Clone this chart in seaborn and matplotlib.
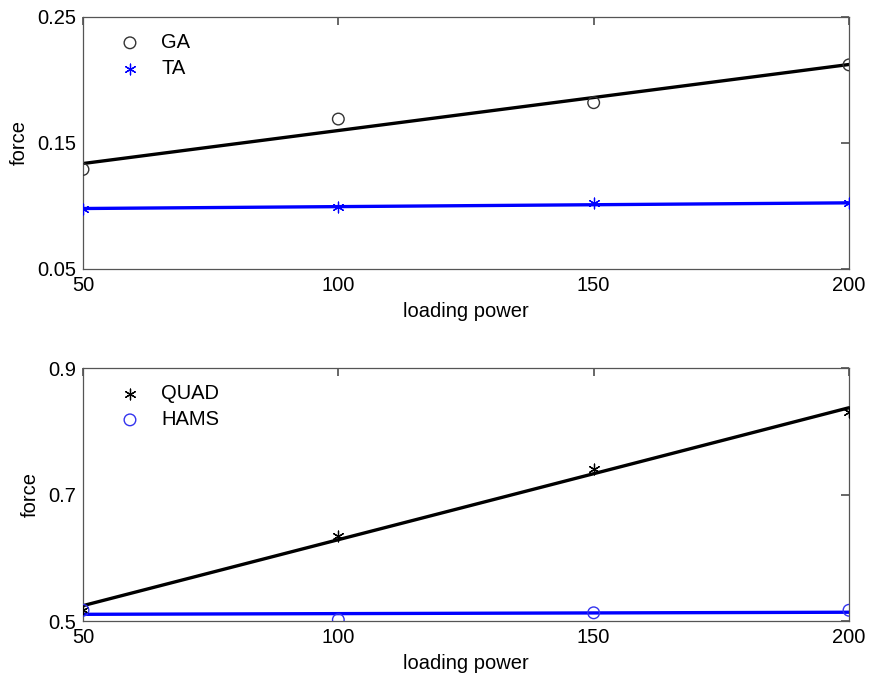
import numpy as np
import pandas as pd
import seaborn as sns
import matplotlib.pyplot as plt

# loading power levels and measured forces
power = [50, 100, 150, 200]
ga = [0.129, 0.169, 0.182, 0.212]
ta = [0.098, 0.099, 0.102, 0.102]
quad = [0.518, 0.634, 0.741, 0.830]
hams = [0.517, 0.502, 0.513, 0.517]

top_ticks = [0.05, 0.15, 0.25]
bottom_ticks = [0.5, 0.7, 0.9]
x_ticks = [50, 100, 150, 200]

sns.set_theme(style="white")
plt.rcParams['font.family'] = ['Liberation Sans', 'DejaVu Sans']
plt.rcParams['text.color'] = 'black'
plt.rcParams['axes.labelcolor'] = 'black'
plt.rcParams['xtick.color'] = 'black'
plt.rcParams['ytick.color'] = 'black'

star = (6, 2, 0)


def panel(ax, s1, s2, names, styles, yticks):
    df = pd.DataFrame({"power": power, names[0]: s1, names[1]: s2})
    for name, (col, mk, face, edge) in zip(names, styles):
        sk = {"s": 70, "alpha": 1, "zorder": 3}
        if face == "none":
            sk.update(facecolors="none", edgecolors=edge, linewidths=1.0)
        else:
            sk.update(linewidths=0.9, s=60)
        sns.regplot(data=df, x="power", y=name, ax=ax, ci=None, color=col,
                    marker=mk, scatter_kws=sk,
                    line_kws={"lw": 2.4, "color": col})
    ax.set_xlim(50, 200)
    ax.set_ylim(yticks[0], yticks[-1])
    ax.set_xticks(x_ticks)
    ax.set_yticks(yticks)
    ax.set_yticklabels([f"{t:g}" for t in yticks])
    ax.tick_params(direction="in", length=6, top=True, right=True,
                   labelsize=14.5, color="#555555", labelcolor="black", pad=5)
    for sp in ax.spines.values():
        sp.set_color("#555555")
        sp.set_linewidth(0.9)
    ax.set_xlabel("loading power", fontsize=14.5, labelpad=5)
    ax.set_ylabel("force", fontsize=14.5, labelpad=6)
    ax.legend(ax.collections[:2], names, loc="upper left", frameon=False,
              fontsize=14.5, handletextpad=0.55, borderaxespad=0.4,
              bbox_to_anchor=(0.014, 1.0), labelspacing=0.35)


fig = plt.figure(figsize=(8.69, 6.74), dpi=100)
ax1 = fig.add_axes([0.0955, 0.6009, 0.8815, 0.3739])
ax2 = fig.add_axes([0.0955, 0.0786, 0.8815, 0.3754])

panel(ax1, ga, ta, ["GA", "TA"],
      [("black", "o", "none", "#333333"), ("#0000ff", star, "fill", None)],
      top_ticks)
panel(ax2, quad, hams, ["QUAD", "HAMS"],
      [("black", star, "fill", None), ("#0000ff", "o", "none", "#3333ee")],
      bottom_ticks)

fig.savefig("out.png", dpi=100)
